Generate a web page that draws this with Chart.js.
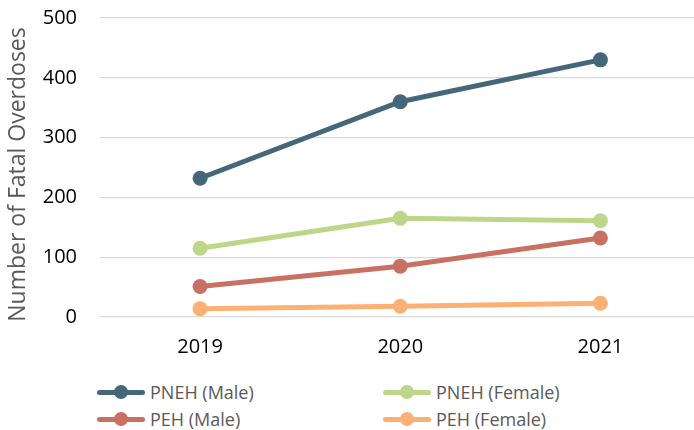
<!DOCTYPE html>
<html>
<head>
<meta charset="utf-8">
<script src="https://cdn.jsdelivr.net/npm/chart.js@4"></script>
<style>
  html, body { margin: 0; padding: 0; background: #ffffff; overflow: hidden; width: 694px; height: 430px; }
  #wrap { position: absolute; left: 0; top: 0; width: 708px; height: 370px; }
  #legend { position: absolute; left: 0; top: 370px; width: 694px; height: 60px; font-family: "Open Sans", sans-serif; font-size: 18px; color: #595959; }
  .item { position: absolute; height: 26px; display: flex; align-items: center; }
  .swatch { position: relative; width: 48px; height: 26px; margin-right: 5px; }
  .swatch .ln { position: absolute; left: 0; top: 10.5px; width: 48px; height: 5px; border-radius: 2.5px; }
  .swatch .dt { position: absolute; left: 17px; top: 6px; width: 14px; height: 14px; border-radius: 50%; }
</style>
</head>
<body>
<div id="wrap"><canvas id="c" width="708" height="370"></canvas></div>
<div id="legend"></div>
<script>
const categories = ["2019", "2020", "2021"];
const seriesNames = ["PNEH (Male)", "PNEH (Female)", "PEH (Male)", "PEH (Female)"];
const pnehMale = [232, 360, 430];
const pnehFemale = [115, 165, 161];
const pehMale = [51, 85, 132];
const pehFemale = [14, 18, 23];
const seriesColors = ["#44687A", "#BDD689", "#C87064", "#FDB073"];
const yTitle = "Number of Fatal Overdoses";

const seriesValues = [pnehMale, pnehFemale, pehMale, pehFemale];
const FONT = '"Open Sans", sans-serif';

const datasets = seriesNames.map((name, i) => ({
  label: name,
  data: seriesValues[i],
  borderColor: seriesColors[i],
  backgroundColor: seriesColors[i],
  pointBackgroundColor: seriesColors[i],
  pointBorderColor: seriesColors[i],
  pointBorderWidth: 0,
  borderWidth: 5,
  pointRadius: 7.5,
  pointHoverRadius: 7.5,
  tension: 0,
  order: i
}));

// y-axis title, centred slightly below the plot centre as in the reference
const yTitlePlugin = {
  id: 'yTitle',
  afterDraw(chart) {
    const ctx = chart.ctx;
    const ca = chart.chartArea;
    ctx.save();
    ctx.font = '23px ' + FONT;
    ctx.fillStyle = '#595959';
    ctx.textAlign = 'center';
    ctx.textBaseline = 'middle';
    ctx.translate(18.5, (ca.top + ca.bottom) / 2 + 7);
    ctx.rotate(-Math.PI / 2);
    ctx.fillText(yTitle, 0, 0);
    ctx.restore();
  }
};

const chart = new Chart(document.getElementById('c'), {
  type: 'line',
  data: { labels: categories, datasets: datasets },
  plugins: [yTitlePlugin],
  options: {
    responsive: false,
    animation: false,
    devicePixelRatio: 1,
    layout: { padding: { top: 0, right: 0, bottom: 0, left: 0 } },
    plugins: { legend: { display: false }, tooltip: { enabled: false } },
    scales: {
      x: {
        type: 'category',
        offset: true,
        grid: { display: false, drawTicks: false },
        border: { display: false },
        ticks: { color: '#000000', font: { family: FONT, size: 20 }, padding: 18 },
        afterFit: (s) => { s.height = 53; }
      },
      y: {
        min: 0, max: 500,
        ticks: { stepSize: 100, color: '#000000', font: { family: FONT, size: 20 }, padding: 6 },
        grid: { color: '#D9D9D9', lineWidth: 1.3, drawTicks: true, tickLength: 17, tickColor: 'rgba(0,0,0,0)' },
        border: { display: false },
        title: { display: false },
        afterFit: (s) => { s.width = 100; }
      }
    }
  }
});

const legendEl = document.getElementById('legend');
const legendPos = [[97, 9], [383, 9], [97, 36], [383, 36]];
seriesNames.forEach((name, i) => {
  const item = document.createElement('div');
  item.className = 'item';
  item.style.left = legendPos[i][0] + 'px';
  item.style.top = legendPos[i][1] + 'px';
  const sw = document.createElement('div');
  sw.className = 'swatch';
  const ln = document.createElement('div'); ln.className = 'ln'; ln.style.background = seriesColors[i];
  const dt = document.createElement('div'); dt.className = 'dt'; dt.style.background = seriesColors[i];
  sw.appendChild(ln); sw.appendChild(dt);
  const tx = document.createElement('span'); tx.textContent = name;
  item.appendChild(sw); item.appendChild(tx);
  legendEl.appendChild(item);
});
</script>
</body>
</html>
